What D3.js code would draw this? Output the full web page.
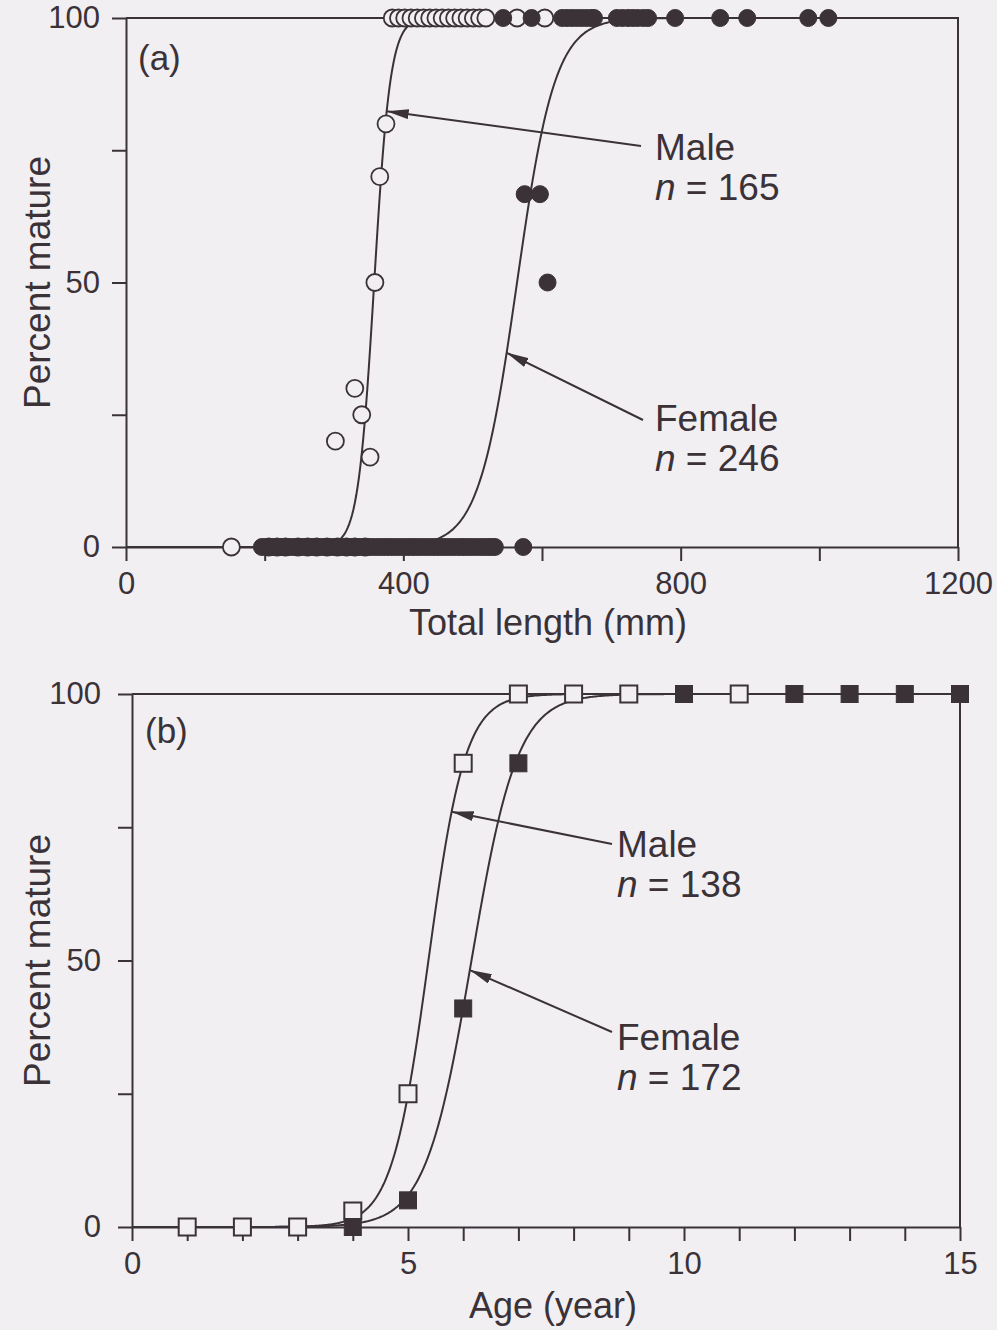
<!DOCTYPE html>
<html>
<head>
<meta charset="utf-8">
<script src="https://cdn.jsdelivr.net/npm/d3@7"></script>
<style>
  html, body { margin: 0; padding: 0; background: #f1eff2; }
  svg { display: block; }
  text { font-family: "Liberation Sans", Arial, Helvetica, sans-serif; fill: #3b3238; }
</style>
</head>
<body>
<svg id="chart" width="997" height="1330"></svg>
<script>
// ---------- Panel (a): percent mature by total length ----------
const lengthTicks = [0, 200, 400, 600, 800, 1000, 1200];
const lengthTickLabels = ["0", "", "400", "", "800", "", "1200"];
const pctTicks = [0, 25, 50, 75, 100];
const pctTickLabels = ["0", "", "50", "", "100"];

// males (open circles)
const maleMatureLength = [384, 393, 402, 411, 420, 429, 438, 447, 456, 465, 474, 483, 492, 501, 510, 519, 564, 604];
const maleImmatureLength = [152, 206, 218, 230, 248, 262, 275, 290, 305, 318, 330, 345];
const maleMidLength = [302, 330, 340, 352, 359, 366, 375];
const maleMidPct = [20, 30, 25, 17, 50, 70, 80];

// females (filled circles)
const femaleMatureLength = [544, 585, 629, 636, 643, 650, 657, 664, 671, 675, 708, 716, 724, 731, 738, 746, 753, 792, 857, 896, 984, 1013];
const femaleImmatureLength = [196, 203, 210, 216, 222, 228, 234, 240, 246, 252, 258, 264, 270, 276, 282, 288, 294, 300,
  306, 312, 318, 324, 330, 336, 342, 348, 354, 360, 366, 372, 378, 384, 390, 396, 402, 408, 414, 420, 426, 432, 438,
  444, 450, 456, 462, 468, 474, 480, 486, 492, 498, 504, 510, 516, 522, 527, 532, 573];
const femaleMidLength = [575, 597, 608];
const femaleMidPct = [66.7, 66.7, 50];

// fitted logistic maturity curves (length at 50 % maturity, slope per mm)
const maleLengthFit = { mid: 358, slope: 0.0857 };
const femaleLengthFit = { mid: 564, slope: 0.0363 };

// ---------- Panel (b): percent mature by age ----------
const ageTicks = [0, 1, 2, 3, 4, 5, 6, 7, 8, 9, 10, 11, 12, 13, 14, 15];
const ageTickLabels = ["0", "", "", "", "", "5", "", "", "", "", "10", "", "", "", "", "15"];
const maleAges = [1, 2, 3, 4, 5, 6, 7, 8, 9, 11];
const maleAgePct = [0, 0, 0, 3, 25, 87, 100, 100, 100, 100];
const femaleAges = [4, 5, 6, 7, 10, 12, 13, 14, 15];
const femaleAgePct = [0, 5, 41, 87, 100, 100, 100, 100, 100];

const maleAgeFit = { mid: 5.37, slope: 3.0 };
const femaleAgeFit = { mid: 6.15, slope: 2.4 };

// ---------- drawing ----------
const INK = "#3b3238";
const BG = "#f1eff2";
const svg = d3.select("#chart");

svg.append("defs").append("marker")
  .attr("id", "arrow")
  .attr("viewBox", "0 -5 22 10")
  .attr("refX", 22).attr("refY", 0)
  .attr("markerWidth", 22).attr("markerHeight", 10)
  .attr("markerUnits", "userSpaceOnUse")
  .attr("orient", "auto")
  .append("path").attr("d", "M0,-5L22,0L0,5Z").attr("fill", INK);

const logistic = fit => v => 100 / (1 + Math.exp(-fit.slope * (v - fit.mid)));

function drawPanel(cfg) {
  const x = d3.scaleLinear().domain(cfg.xDomain).range(cfg.xRange);
  const y = d3.scaleLinear().domain([0, 100]).range(cfg.yRange);
  const g = svg.append("g");

  // fitted curves
  const line = d3.line().x(d => x(d[0])).y(d => y(d[1]));
  cfg.fits.forEach(fit => {
    const f = logistic(fit);
    const xs = d3.range(cfg.xDomain[0], cfg.xDomain[1], (cfg.xDomain[1] - cfg.xDomain[0]) / 600).concat([cfg.xDomain[1]]);
    g.append("path")
      .attr("d", line(xs.map(v => [v, f(v)])))
      .attr("fill", "none").attr("stroke", INK).attr("stroke-width", 2);
  });

  // frame (top and right)
  g.append("path")
    .attr("d", `M${x.range()[0]},${y(100)}H${x.range()[1]}V${y(0)}`)
    .attr("fill", "none").attr("stroke", INK).attr("stroke-width", 2);

  // axes
  const xAxis = d3.axisBottom(x).tickValues(cfg.xTicks)
    .tickFormat((d, i) => cfg.xTickLabels[i]).tickSize(14).tickSizeOuter(0).tickPadding(11);
  const yAxis = d3.axisLeft(y).tickValues(pctTicks)
    .tickFormat((d, i) => pctTickLabels[i]).tickSize(14).tickSizeOuter(0).tickPadding(cfg.yPad);

  const gx = g.append("g").attr("transform", `translate(0,${y(0)})`).call(xAxis);
  const gy = g.append("g").attr("transform", `translate(${x(cfg.xDomain[0])},0)`).call(yAxis);
  [gx, gy].forEach(a => {
    a.attr("font-family", null).attr("font-size", null);
    a.selectAll("path, line").attr("stroke", INK).attr("stroke-width", 2);
    a.selectAll("text").attr("fill", INK).style("font-size", "31px");
  });

  // axis titles
  g.append("text")
    .attr("transform", `translate(${cfg.yTitleX},${y(50)}) rotate(-90)`)
    .attr("text-anchor", "middle").style("font-size", "37px")
    .text("Percent mature");
  g.append("text")
    .attr("x", cfg.xTitlePos[0]).attr("y", cfg.xTitlePos[1])
    .attr("text-anchor", "middle").style("font-size", "36px")
    .text(cfg.xTitle);

  // panel tag
  g.append("text").attr("x", cfg.tagPos[0]).attr("y", cfg.tagPos[1])
    .style("font-size", "35px").text(cfg.tag);

  // annotations with arrows
  cfg.notes.forEach(n => {
    g.append("line")
      .attr("x1", n.from[0]).attr("y1", n.from[1])
      .attr("x2", x(n.at)).attr("y2", y(logistic(n.fit)(n.at)))
      .attr("stroke", INK).attr("stroke-width", 2)
      .attr("marker-end", "url(#arrow)");
    const t = g.append("text").attr("x", n.textPos[0]).attr("y", n.textPos[1]).style("font-size", "37px");
    t.append("tspan").text(n.label);
    const t2 = g.append("text").attr("x", n.textPos[0]).attr("y", n.textPos[1] + 40).style("font-size", "37px");
    t2.append("tspan").style("font-style", "italic").text("n");
    t2.append("tspan").text(" = " + n.count);
  });

  cfg.markers(g, x, y);
}

// Panel (a)
drawPanel({
  xDomain: [0, 1200], xRange: [126, 958], yRange: [547, 18],
  xTicks: lengthTicks, xTickLabels: lengthTickLabels, yPad: 12,
  fits: [maleLengthFit, femaleLengthFit],
  yTitleX: 50, xTitle: "Total length (mm)", xTitlePos: [548, 635],
  tag: "(a)", tagPos: [138, 70],
  notes: [
    { label: "Male", count: 165, fit: maleLengthFit, at: 376, from: [641, 146], textPos: [655, 160] },
    { label: "Female", count: 246, fit: femaleLengthFit, at: 549, from: [643, 420], textPos: [655, 431] }
  ],
  markers: (g, x, y) => {
    const R = 8.5;
    const open = (xs, ps) => g.append("g").selectAll("circle").data(xs).join("circle")
      .attr("cx", d => x(d)).attr("cy", (d, i) => y(ps[i])).attr("r", R)
      .attr("fill", BG).attr("stroke", INK).attr("stroke-width", 1.8);
    const filled = (xs, ps) => g.append("g").selectAll("circle").data(xs).join("circle")
      .attr("cx", d => x(d)).attr("cy", (d, i) => y(ps[i])).attr("r", R)
      .attr("fill", INK).attr("stroke", INK).attr("stroke-width", 1);
    open(maleImmatureLength, maleImmatureLength.map(() => 0));
    open(maleMatureLength, maleMatureLength.map(() => 100));
    open(maleMidLength, maleMidPct);
    filled(femaleImmatureLength, femaleImmatureLength.map(() => 0));
    filled(femaleMatureLength, femaleMatureLength.map(() => 100));
    filled(femaleMidLength, femaleMidPct);
  }
});

// Panel (b)
drawPanel({
  xDomain: [0, 15], xRange: [132, 960], yRange: [1227, 694],
  xTicks: ageTicks, xTickLabels: ageTickLabels, yPad: 17,
  fits: [maleAgeFit, femaleAgeFit],
  yTitleX: 50, xTitle: "Age (year)", xTitlePos: [553, 1318],
  tag: "(b)", tagPos: [145, 743],
  notes: [
    { label: "Male", count: 138, fit: maleAgeFit, at: 5.79, from: [612, 844], textPos: [617, 857] },
    { label: "Female", count: 172, fit: femaleAgeFit, at: 6.12, from: [612, 1032], textPos: [617, 1050] }
  ],
  markers: (g, x, y) => {
    const S = 17;
    g.append("g").selectAll("rect").data(maleAges).join("rect")
      .attr("x", d => x(d) - S / 2).attr("y", (d, i) => y(maleAgePct[i]) - S / 2)
      .attr("width", S).attr("height", S)
      .attr("fill", BG).attr("stroke", INK).attr("stroke-width", 2);
    g.append("g").selectAll("rect").data(femaleAges).join("rect")
      .attr("x", d => x(d) - S / 2).attr("y", (d, i) => y(femaleAgePct[i]) - S / 2)
      .attr("width", S).attr("height", S)
      .attr("fill", INK).attr("stroke", INK).attr("stroke-width", 1);
  }
});
</script>
</body>
</html>
